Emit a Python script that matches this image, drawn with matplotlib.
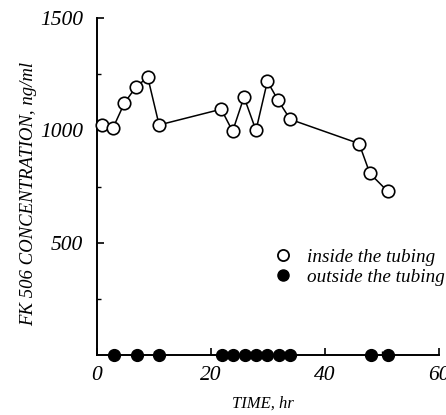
import matplotlib
matplotlib.use("Agg")
import matplotlib.pyplot as plt
from matplotlib.lines import Line2D

# Data
time_inside = [0.8, 2.8, 4.8, 6.8, 8.9, 10.9, 21.8, 23.8, 25.8, 27.9, 29.9, 31.8, 33.9, 46.0, 47.9, 51.0]
conc_inside = [1022, 1010, 1121, 1192, 1237, 1024, 1094, 996, 1148, 1000, 1218, 1133, 1049, 941, 808, 729]
time_outside = [2.9, 7.0, 10.9, 22.0, 23.9, 25.9, 27.9, 29.9, 31.9, 33.9, 48.1, 51.0]
conc_outside = [0] * len(time_outside)
xticks = [0, 20, 40, 60]
yticks = [500, 1000, 1500]
labels = ["inside the tubing", "outside the tubing"]

plt.rcParams['font.family'] = ['Liberation Serif', 'DejaVu Serif']

fig = plt.figure(figsize=(4.46, 4.15), dpi=100)
ax = fig.add_axes([0.2175, 0.1446, 0.984 - 0.2175, 0.9566 - 0.1446])

ax.plot(time_inside, conc_inside, color='black', lw=1.1, marker='o', ms=9,
        mfc='white', mec='black', mew=1.2, zorder=3, clip_on=False)
ax.plot(time_outside, conc_outside, ls='none', marker='o', ms=8.5,
        mfc='black', mec='black', zorder=4, clip_on=False)

ax.set_xlim(0, 60)
ax.set_ylim(0, 1500)
for s in ['top', 'right']:
    ax.spines[s].set_visible(False)
for s in ['left', 'bottom']:
    ax.spines[s].set_linewidth(1.4)

ax.set_xticks(xticks)
ax.set_yticks(yticks)
ax.set_xticks([10, 30, 50], minor=True)
ax.set_yticks([250, 750, 1250], minor=True)
ax.tick_params(which='major', direction='in', length=5, width=1.2,
               labelsize=15.5)
ax.tick_params(axis='y', which='major', pad=10)
ax.tick_params(axis='x', which='major', pad=8)
ax.tick_params(which='minor', direction='in', length=3, width=1.0)
for lab in ax.get_xticklabels() + ax.get_yticklabels():
    lab.set_fontstyle('italic')

ax.set_xlabel("TIME, hr", fontsize=12, fontstyle='italic')
ax.xaxis.set_label_coords(0.484, -0.122)
ax.set_ylabel("FK 506 CONCENTRATION, ng/ml", fontsize=13.5, fontstyle='italic')
ax.yaxis.set_label_coords(-0.175, 0.479)

handles = [
    Line2D([], [], ls='none', marker='o', ms=8, mfc='white', mec='black', mew=1.3),
    Line2D([], [], ls='none', marker='o', ms=8, mfc='black', mec='black'),
]
leg = ax.legend(handles, labels, loc='upper left', bbox_to_anchor=(264 / 446, 1 - 239 / 415),
                bbox_transform=fig.transFigure, frameon=False, handlelength=1.0,
                handletextpad=0.75, labelspacing=0.12, borderpad=0,
                prop={'style': 'italic', 'size': 13.8})

fig.savefig("out.png", dpi=100)
